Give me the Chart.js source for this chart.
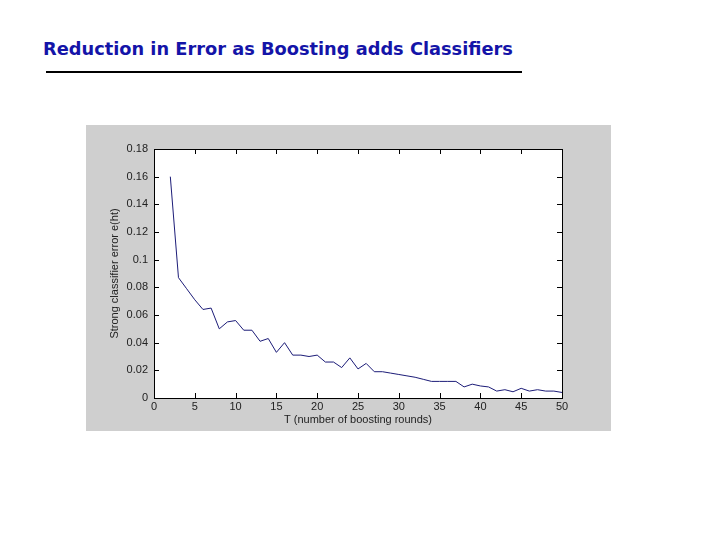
<!DOCTYPE html>
<html>
<head>
<meta charset="utf-8">
<script src="https://cdn.jsdelivr.net/npm/chart.js@4"></script>
<style>
  body { margin:0; background:#fff; width:720px; height:540px; position:relative; overflow:hidden; }
  #title { position:absolute; left:43px; top:38px; font-family:"DejaVu Sans", Verdana, sans-serif; font-weight:bold; font-size:17.8px; color:#1414a8; white-space:nowrap; }
  #rule { position:absolute; left:46px; top:71px; width:476px; height:2px; background:#000; }
  #panel { position:absolute; left:86px; top:125px; width:525px; height:306px; background:#cfcfcf; }
</style>
</head>
<body>
<div id="title">Reduction in Error as Boosting adds Classifiers</div>
<div id="rule"></div>
<div id="panel"><canvas id="err-chart" width="525" height="306"></canvas></div>
<script>
// boosting rounds and strong classifier error
const rounds = [2, 3, 4, 5, 6, 7, 8, 9, 10, 11, 12, 13, 14, 15, 16, 17, 18, 19, 20, 21, 22, 23, 24, 25, 26,
  27, 28, 29, 30, 31, 32, 33, 34, 35, 36, 37, 38, 39, 40, 41, 42, 43, 44, 45, 46, 47, 48, 49, 50];
const errors = [0.160, 0.087, 0.079, 0.071, 0.064, 0.065, 0.050, 0.055, 0.056, 0.049, 0.049, 0.041, 0.043,
  0.033, 0.040, 0.031, 0.031, 0.030, 0.031, 0.026, 0.026, 0.022, 0.029, 0.021, 0.025, 0.019, 0.019, 0.018,
  0.017, 0.016, 0.015, 0.0135, 0.012, 0.012, 0.012, 0.012, 0.008, 0.010, 0.0087, 0.008, 0.005, 0.006,
  0.0045, 0.007, 0.005, 0.006, 0.005, 0.005, 0.004];
const xTicks = [0, 5, 10, 15, 20, 25, 30, 35, 40, 45, 50];
const yTicks = [0, 0.02, 0.04, 0.06, 0.08, 0.1, 0.12, 0.14, 0.16, 0.18];

const TICK_FONT = { family: 'Liberation Sans, Arial, sans-serif', size: 11 };
const TICK_COLOR = '#222';

// white plot area, then MATLAB-style box with inward ticks on all four sides
const boxTicks = {
  id: 'boxTicks',
  beforeDatasetsDraw(chart) {
    const { ctx, chartArea: a } = chart;
    ctx.save();
    ctx.fillStyle = '#fff';
    ctx.fillRect(a.left, a.top, a.right - a.left, a.bottom - a.top);
    ctx.restore();
  },
  afterDraw(chart) {
    const { ctx, chartArea: a, scales } = chart;
    const len = 5;
    ctx.save();
    ctx.strokeStyle = '#000';
    ctx.lineWidth = 1;
    ctx.strokeRect(a.left + 0.5, a.top + 0.5, a.right - a.left, a.bottom - a.top);
    ctx.beginPath();
    xTicks.forEach(v => {
      const px = Math.round(scales.x.getPixelForValue(v)) + 0.5;
      ctx.moveTo(px, a.bottom); ctx.lineTo(px, a.bottom - len);
      ctx.moveTo(px, a.top); ctx.lineTo(px, a.top + len);
    });
    yTicks.forEach(v => {
      const py = Math.round(scales.y.getPixelForValue(v)) + 0.5;
      ctx.moveTo(a.left, py); ctx.lineTo(a.left + len, py);
      ctx.moveTo(a.right, py); ctx.lineTo(a.right - len, py);
    });
    ctx.stroke();
    ctx.restore();
  }
};

new Chart(document.getElementById('err-chart'), {
  type: 'line',
  data: {
    datasets: [{
      data: rounds.map((t, i) => ({ x: t, y: errors[i] })),
      borderColor: '#1c1c78',
      borderWidth: 1,
      pointRadius: 0,
      tension: 0,
      fill: false,
    }],
  },
  options: {
    responsive: false,
    animation: false,
    layout: { padding: { left: 22, top: 24, right: 49, bottom: 4 } },
    plugins: {
      legend: { display: false },
      tooltip: { enabled: false },
    },
    scales: {
      x: {
        type: 'linear',
        min: 0,
        max: 50,
        grid: { display: false, drawTicks: false },
        border: { display: false },
        afterBuildTicks: (s) => { s.ticks = xTicks.map(v => ({ value: v })); },
        afterFit: (s) => { s.height = 29; },
        ticks: { color: TICK_COLOR, font: TICK_FONT, padding: 2, maxRotation: 0 },
        title: {
          display: true,
          text: 'T (number of boosting rounds)',
          color: TICK_COLOR,
          font: TICK_FONT,
          padding: { top: 0, bottom: 0 },
        },
      },
      y: {
        min: 0,
        max: 0.18,
        grid: { display: false, drawTicks: false },
        border: { display: false },
        afterBuildTicks: (s) => { s.ticks = yTicks.map(v => ({ value: v })); },
        afterFit: (s) => { s.width = 46; },
        ticks: {
          color: TICK_COLOR,
          font: TICK_FONT,
          padding: 6,
          callback: (v) => String(Math.round(v * 100) / 100),
        },
        title: {
          display: true,
          text: 'Strong classifier error e(ht)',
          color: TICK_COLOR,
          font: TICK_FONT,
          padding: { top: 0, bottom: 4 },
        },
      },
    },
  },
  plugins: [boxTicks],
});
</script>
</body>
</html>
